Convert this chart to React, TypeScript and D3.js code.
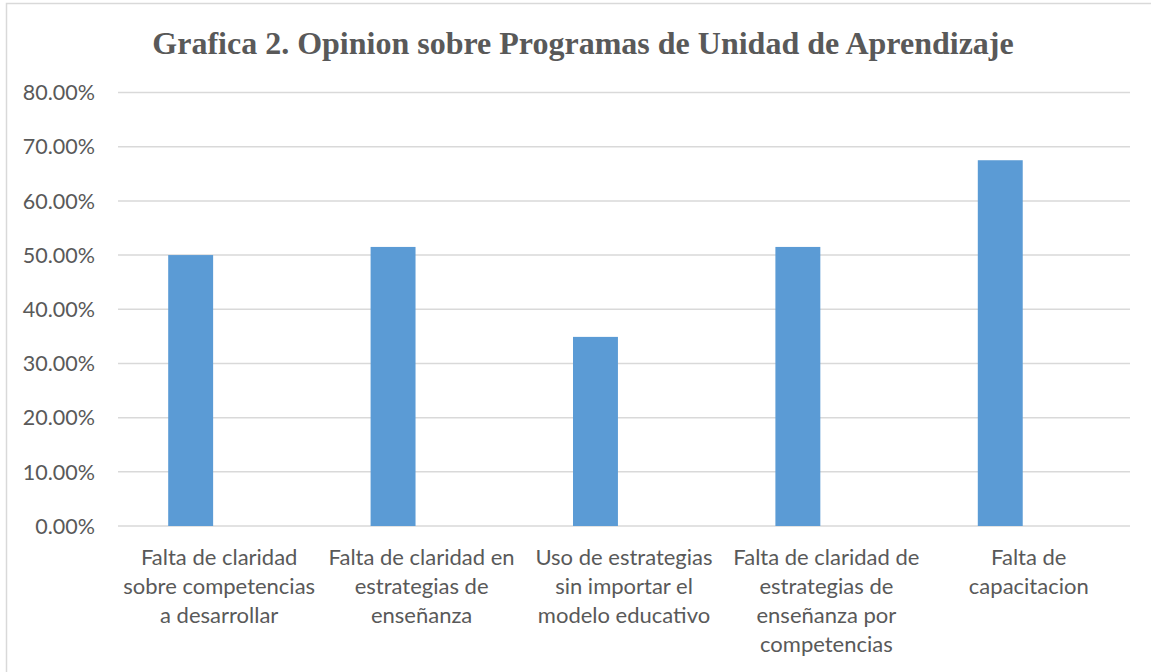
import React, { useEffect, useRef } from 'react';
import * as d3 from 'd3';

const categories = [
  'Falta de claridad sobre competencias a desarrollar',
  'Falta de claridad en estrategias de enseñanza',
  'Uso de estrategias sin importar el modelo educativo',
  'Falta de claridad de estrategias de enseñanza por competencias',
  'Falta de capacitacion',
];

// how each category label breaks in the picture
const categoryLines = [
  ['Falta de claridad', 'sobre competencias', 'a desarrollar'],
  ['Falta de claridad en', 'estrategias de', 'enseñanza'],
  ['Uso de estrategias', 'sin importar el', 'modelo educativo'],
  ['Falta de claridad de', 'estrategias de', 'enseñanza por', 'competencias'],
  ['Falta de', 'capacitacion'],
];

const values = [0.5, 0.515, 0.349, 0.515, 0.675];

const yTicks = [0, 0.1, 0.2, 0.3, 0.4, 0.5, 0.6, 0.7, 0.8];

const title = 'Grafica 2. Opinion sobre Programas de Unidad de Aprendizaje';

export default function App() {
  const ref = useRef<SVGSVGElement>(null);

  useEffect(() => {
    const width = 1151;
    const height = 672;
    const left = 118;
    const right = 1130;
    const top = 92.5;
    const bottom = 526;
    const textColor = '#595959';
    const font = 'Lato, "Noto Sans", sans-serif';

    const svg = d3.select(ref.current);
    svg.selectAll('*').remove();
    svg.attr('width', width).attr('height', height);

    svg
      .append('rect')
      .attr('width', width)
      .attr('height', height)
      .attr('fill', '#fff');

    // chart frame (only top and left sides are in the crop)
    svg
      .append('path')
      .attr('d', `M6.5,${height}V3.5H${width}`)
      .attr('fill', 'none')
      .attr('stroke', '#d9d9d9')
      .attr('stroke-width', 1.5);

    const x = d3.scaleBand<string>().domain(categories).range([left, right]);
    const y = d3.scaleLinear().domain([0, 0.8]).range([bottom, top]);

    svg
      .append('text')
      .attr('x', 583)
      .attr('y', 54)
      .attr('text-anchor', 'middle')
      .attr('font-family', '"Liberation Serif", "Times New Roman", serif')
      .attr('font-weight', 'bold')
      .attr('font-size', 32)
      .attr('fill', textColor)
      .text(title);

    svg
      .append('g')
      .selectAll('line')
      .data(yTicks)
      .join('line')
      .attr('x1', left)
      .attr('x2', right)
      .attr('y1', (d) => y(d))
      .attr('y2', (d) => y(d))
      .attr('stroke', '#d9d9d9')
      .attr('stroke-width', 1.5);

    svg
      .append('g')
      .selectAll('text')
      .data(yTicks)
      .join('text')
      .attr('x', 95)
      .attr('y', (d) => y(d))
      .attr('dy', '0.36em')
      .attr('text-anchor', 'end')
      .attr('font-family', font)
      .attr('font-size', 21.5)
      .attr('fill', textColor)
      .text((d) => d3.format('.2%')(d));

    const step = x.step();
    svg
      .append('g')
      .selectAll('rect')
      .data(values)
      .join('rect')
      .attr('x', (d, i) => (x(categories[i]) as number) + step * 0.248)
      .attr('width', step * 0.222)
      .attr('y', (d) => y(d))
      .attr('height', (d) => y(0) - y(d))
      .attr('fill', '#5b9bd5');

    const labels = svg
      .append('g')
      .selectAll('text')
      .data(categories)
      .join('text')
      .attr('x', (d) => (x(d) as number) + step / 2)
      .attr('y', 565)
      .attr('text-anchor', 'middle')
      .attr('font-family', font)
      .attr('font-size', 22)
      .attr('fill', textColor);

    labels
      .selectAll('tspan')
      .data((d, i) => categoryLines[i])
      .join('tspan')
      .attr('x', function () {
        return (this.parentNode as SVGTextElement).getAttribute('x');
      })
      .attr('dy', (d, i) => (i === 0 ? 0 : 29))
      .text((d) => d);
  }, []);

  return (
    <svg
      ref={ref}
      style={{ position: 'absolute', left: 0, top: 0, display: 'block' }}
    />
  );
}
